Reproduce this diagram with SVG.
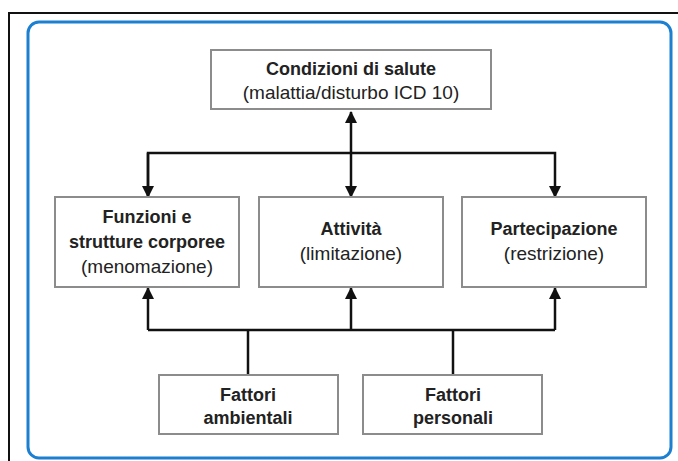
<svg xmlns="http://www.w3.org/2000/svg" width="678" height="461" viewBox="0 0 678 461">
<defs>
<style>
.frame{fill:none;stroke:#111;stroke-width:2}
.panel{fill:#fff;stroke:#1b7fd2;stroke-width:3}
.box{fill:#fff;stroke:#8c8c8c;stroke-width:2}
.t{font-family:"Liberation Sans",Arial,sans-serif;font-size:19px;fill:#222;text-anchor:middle}
.b{font-weight:bold;font-size:18px}
.c{fill:none;stroke:#111;stroke-width:2.5}
</style>
<marker id="ah" markerUnits="userSpaceOnUse" markerWidth="12" markerHeight="12" viewBox="0 0 12 12" refX="11" refY="6" orient="auto">
<path d="M0,0 L12,6 L0,12 Z" fill="#111"/>
</marker>
</defs>
<rect width="678" height="461" fill="#fff"/>
<path class="frame" d="M9,470 V13 H680"/>
<rect class="panel" x="28" y="22" width="643" height="436" rx="11"/>
<g id="connectors">
<path class="c" d="M351,153 V112" marker-end="url(#ah)"/>
<path class="c" d="M351,153 V197" marker-end="url(#ah)"/>
<path class="c" d="M148,197 V153 H555 V197" marker-end="url(#ah)"/>
<path class="c" d="M148,153 V197" marker-end="url(#ah)"/>
<path class="c" d="M248,375 V330"/>
<path class="c" d="M453,375 V330"/>
<path class="c" d="M148,330 H555"/>
<path class="c" d="M148,330 V288" marker-end="url(#ah)"/>
<path class="c" d="M351,330 V288" marker-end="url(#ah)"/>
<path class="c" d="M555,330 V288" marker-end="url(#ah)"/>
</g>
<g id="condizioni">
<rect class="box" x="211" y="50" width="280" height="59"/>
<text class="t b" x="351" y="75">Condizioni di salute</text>
<text class="t" x="351" y="99">(malattia/disturbo ICD 10)</text>
</g>
<g id="funzioni">
<rect class="box" x="55" y="197" width="184" height="90"/>
<text class="t b" x="147" y="223">Funzioni e</text>
<text class="t b" x="147" y="248">strutture corporee</text>
<text class="t" x="147" y="273">(menomazione)</text>
</g>
<g id="attivita">
<rect class="box" x="259" y="197" width="184" height="90"/>
<text class="t b" x="351" y="235">Attività</text>
<text class="t" x="351" y="260">(limitazione)</text>
</g>
<g id="partecipazione">
<rect class="box" x="462" y="197" width="184" height="90"/>
<text class="t b" x="554" y="235">Partecipazione</text>
<text class="t" x="554" y="260">(restrizione)</text>
</g>
<g id="ambientali">
<rect class="box" x="159" y="375" width="179" height="59"/>
<text class="t b" x="248" y="401">Fattori</text>
<text class="t b" x="248" y="424">ambientali</text>
</g>
<g id="personali">
<rect class="box" x="363" y="375" width="179" height="59"/>
<text class="t b" x="453" y="401">Fattori</text>
<text class="t b" x="453" y="424">personali</text>
</g>
</svg>
